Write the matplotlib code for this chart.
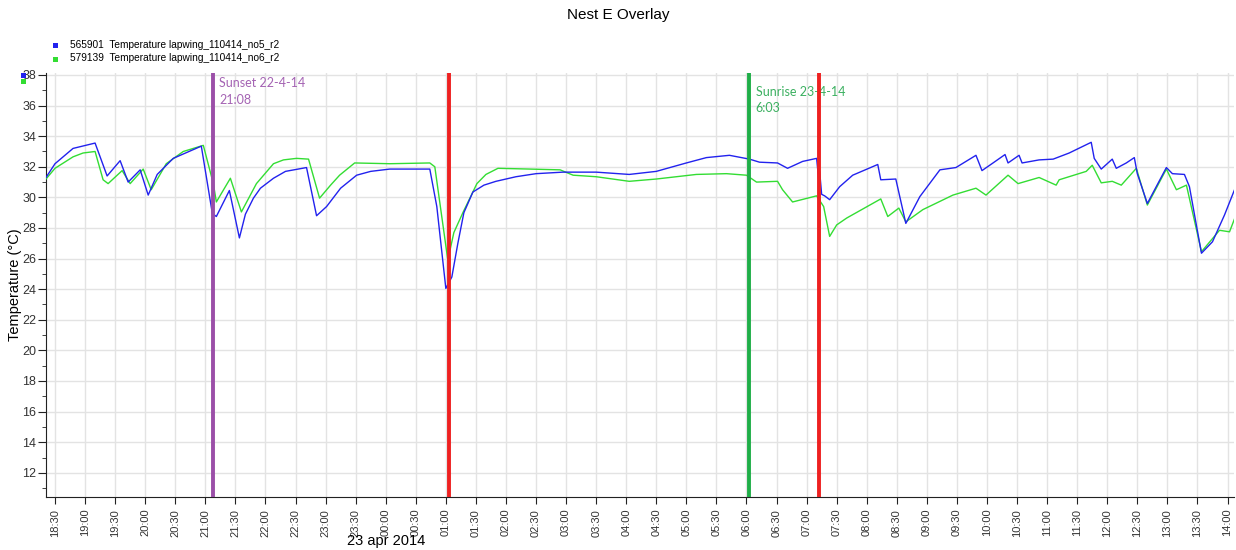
import datetime as dt
import matplotlib
matplotlib.use('Agg')
import matplotlib.pyplot as plt
import matplotlib.dates as mdates
from matplotlib.patches import Rectangle
from matplotlib.ticker import MultipleLocator

plt.rcParams['font.family'] = ['Liberation Sans', 'DejaVu Sans']

# logger 565901 (nest E, no5)
t_no5 = ['18:21', '18:30', '18:48', '19:10', '19:22', '19:35', '19:43', '19:55', '20:03',
         '20:12', '20:28', '20:56', '21:07', '21:11', '21:24', '21:34', '21:40', '21:48',
         '21:55', '22:08', '22:20', '22:41', '22:51', '23:01', '23:15', '23:31', '23:45',
         '00:04', '00:44', '00:51', '01:00', '01:06', '01:12', '01:18', '01:27', '01:38',
         '01:50', '02:10', '02:30', '02:57', '03:30', '04:03', '04:30', '05:00', '05:20',
         '05:43', '06:03', '06:13', '06:31', '06:41', '06:56', '07:10', '07:12', '07:13',
         '07:15', '07:18', '07:23', '07:33', '07:46', '08:11', '08:14', '08:29', '08:39',
         '08:53', '09:13', '09:29', '09:49', '09:55', '10:06', '10:18', '10:21', '10:32',
         '10:35', '10:52', '11:06', '11:22', '11:44', '11:47', '11:54', '12:05', '12:09',
         '12:19', '12:27', '12:30', '12:40', '12:59', '13:05', '13:17', '13:22', '13:34',
         '13:45', '13:57', '14:07']
temp_no5 = [31.3, 32.2, 33.2, 33.55, 31.4, 32.4, 31.0, 31.8, 30.15,
            31.5, 32.55, 33.35, 28.95, 28.75, 30.45, 27.35, 28.9, 29.95,
            30.6, 31.25, 31.7, 31.95, 28.8, 29.4, 30.6, 31.45, 31.7,
            31.85, 31.85, 29.4, 24.05, 24.8, 27.0, 29.0, 30.35, 30.8,
            31.05, 31.35, 31.55, 31.65, 31.65, 31.5, 31.7, 32.25, 32.6,
            32.75, 32.5, 32.3, 32.25, 31.9, 32.35, 32.55, 31.2, 31.7,
            30.2, 30.1, 29.85, 30.7, 31.45, 32.15, 31.15, 31.2, 28.3,
            30.05, 31.8, 31.95, 32.75, 31.75, 32.25, 32.8, 32.25, 32.75,
            32.25, 32.45, 32.5, 32.9, 33.6, 32.55, 31.85, 32.5, 31.9,
            32.25, 32.6, 31.55, 29.6, 31.95, 31.55, 31.5, 30.7, 26.35,
            27.1, 28.85, 30.5]

# logger 579139 (nest E, no6)
t_no6 = ['18:21', '18:30', '18:48', '18:58', '19:10', '19:18', '19:23', '19:37', '19:45',
         '19:58', '20:06', '20:21', '20:38', '20:58', '21:08', '21:11', '21:25', '21:36',
         '21:51', '22:08', '22:18', '22:31', '22:43', '22:54', '23:05', '23:14', '23:29',
         '00:04', '00:44', '00:49', '01:02', '01:08', '01:17', '01:31', '01:40', '01:52',
         '02:24', '02:54', '03:07', '03:30', '04:03', '04:30', '05:10', '05:40', '06:00',
         '06:10', '06:31', '06:36', '06:46', '07:10', '07:17', '07:23', '07:30', '07:40',
         '08:14', '08:21', '08:32', '08:39', '08:56', '09:26', '09:49', '09:59', '10:21',
         '10:31', '10:52', '11:09', '11:12', '11:39', '11:45', '11:54', '12:05', '12:14',
         '12:29', '12:40', '12:59', '13:09', '13:19', '13:34', '13:52', '14:02', '14:07']
temp_no6 = [31.2, 31.9, 32.65, 32.9, 33.0, 31.15, 30.9, 31.75, 30.9,
            31.85, 30.5, 32.2, 33.0, 33.4, 30.9, 29.7, 31.25, 29.05,
            30.9, 32.2, 32.45, 32.55, 32.5, 29.95, 30.8, 31.45, 32.25,
            32.2, 32.25, 32.0, 25.9, 27.7, 29.0, 30.9, 31.5, 31.9,
            31.85, 31.8, 31.45, 31.35, 31.05, 31.2, 31.5, 31.55, 31.45,
            31.0, 31.05, 30.5, 29.7, 30.1, 29.4, 27.45, 28.2, 28.65,
            29.9, 28.75, 29.3, 28.4, 29.2, 30.15, 30.6, 30.15, 31.45,
            30.9, 31.3, 30.8, 31.15, 31.7, 32.1, 30.95, 31.05, 30.8,
            31.9, 29.5, 31.85, 30.5, 30.8, 26.45, 27.85, 27.75, 28.6]

# marker lines
sunset_time, sunset_text = '21:08', 'Sunset 22-4-14\n21:08'
sunrise_time, sunrise_text = '06:03', 'Sunrise 23-4-14\n6:03'
red_times = ['01:03', '07:12']

BLUE = '#2222ee'
GREEN = '#33dd33'


def to_dt(hm):
    h, m = map(int, hm.split(':'))
    day = 22 if h >= 18 else 23
    return dt.datetime(2014, 4, day, h, m)


def fig_square(x, y, size, color):
    # x, y = top-left corner in pixels
    fig.add_artist(Rectangle((x / 1236, 1 - (y + size) / 550), size / 1236, size / 550,
                             transform=fig.transFigure, color=color, lw=0))


fig = plt.figure(figsize=(12.36, 5.5), dpi=100)
ax = fig.add_axes([0.0372, 0.0964, 0.9608, 0.7709])

ax.plot([to_dt(t) for t in t_no6], temp_no6, color=GREEN, lw=1.0, zorder=3)
ax.plot([to_dt(t) for t in t_no5], temp_no5, color=BLUE, lw=1.0, zorder=3)

ax.axvline(to_dt(sunset_time), color='#9b4fa8', lw=2.8, zorder=4)
ax.axvline(to_dt(sunrise_time), color='#1fae48', lw=2.8, zorder=4)
for t in red_times:
    ax.axvline(to_dt(t), color='#ee2020', lw=2.8, zorder=4)

ax.text(to_dt(sunset_time) + dt.timedelta(minutes=6), 37.85, sunset_text,
        color='#a463b3', fontsize=9, family='Lato', va='top', linespacing=1.45)
ax.text(to_dt(sunrise_time) + dt.timedelta(minutes=6), 37.3, sunrise_text,
        color='#3bb060', fontsize=9, family='Lato', va='top', linespacing=1.45)

ax.set_xlim(to_dt('18:21'), to_dt('14:06'))
ax.set_ylim(10.42, 38.13)

ax.xaxis.set_major_locator(mdates.MinuteLocator(byminute=[0, 30]))
ax.xaxis.set_major_formatter(mdates.DateFormatter('%H:%M'))
ax.yaxis.set_major_locator(MultipleLocator(2))
ax.yaxis.set_minor_locator(MultipleLocator(1))
ax.tick_params(axis='x', rotation=90, labelsize=8, length=5, colors='#222222', labelcolor='#333333')
ax.tick_params(axis='y', which='major', labelsize=9, length=6, pad=1,
               colors='#222222', labelcolor='#333333')
ax.tick_params(axis='y', which='minor', length=3, colors='#222222')

ax.grid(True, which='major', color='#e3e3e3', lw=1.0)
ax.set_axisbelow(True)
for side in ['top', 'right']:
    ax.spines[side].set_visible(False)
ax.spines['left'].set_color('#222222')
ax.spines['bottom'].set_color('#222222')

ax.set_ylabel('Temperature (°C)', fontsize=10.5)
ax.yaxis.set_label_coords(-0.0205, 0.5)
ax.text(to_dt('00:00'), -0.105, '23 apr 2014', transform=ax.get_xaxis_transform(),
        ha='center', va='center', fontsize=10.5)

fig.text(0.5, 0.973, 'Nest E Overlay', ha='center', va='center', fontsize=11)

# series legend
fig_square(53, 43, 5, BLUE)
fig_square(53, 57, 5, GREEN)
fig.text(0.0566, 0.918, '565901  Temperature lapwing_110414_no5_r2', fontsize=7.3, va='center')
fig.text(0.0566, 0.894, '579139  Temperature lapwing_110414_no6_r2', fontsize=7.3, va='center')
fig_square(21, 73, 5, BLUE)
fig_square(21, 79, 5, GREEN)

fig.savefig('out.png', dpi=100)
